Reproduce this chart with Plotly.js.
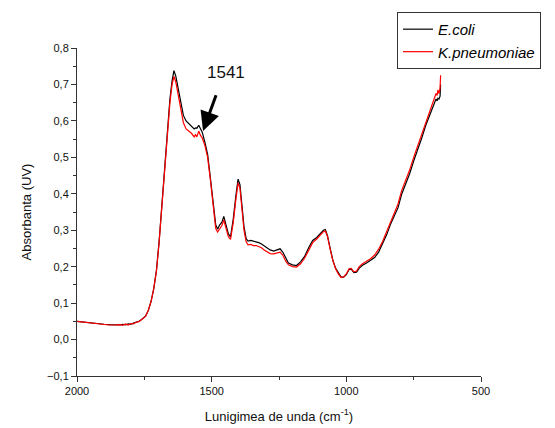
<!DOCTYPE html>
<html>
<head>
<meta charset="utf-8">
<script src="https://cdn.plot.ly/plotly-3.0.1.min.js"></script>
<style>html,body{margin:0;padding:0;background:#fff;}#chart{width:555px;height:428px;}</style>
</head>
<body>
<div id="chart"></div>
<script>
const wavenumber = [2000,1980,1960,1940,1920,1900,1880,1860,1840,1830,1820,1810,1800,1790,1780,1770,1760,1745,1735,1725,1715,1705,1695,1685,1675,1665,1655,1647,1640,1633,1625,1615,1605,1595,1585,1575,1565,1560,1555,1548,1542,1535,1525,1515,1505,1495,1485,1478,1470,1462,1455,1447,1438,1430,1420,1410,1402,1395,1388,1380,1372,1365,1355,1345,1335,1325,1315,1305,1295,1283,1270,1258,1246,1236,1225,1215,1200,1185,1170,1155,1140,1125,1110,1098,1085,1078,1070,1060,1050,1040,1030,1020,1010,1000,990,982,972,962,952,940,925,910,895,880,865,850,835,820,808,795,780,765,750,735,720,705,690,680,672,667,663,660,656,652,650];
const ecoli = [0.050,0.048,0.046,0.045,0.044,0.042,0.041,0.040,0.040,0.042,0.040,0.043,0.042,0.045,0.047,0.050,0.055,0.065,0.080,0.105,0.140,0.190,0.270,0.370,0.470,0.570,0.660,0.710,0.738,0.722,0.690,0.648,0.615,0.600,0.593,0.586,0.578,0.581,0.580,0.588,0.578,0.569,0.541,0.508,0.445,0.375,0.315,0.303,0.315,0.322,0.338,0.315,0.290,0.282,0.330,0.395,0.440,0.425,0.375,0.310,0.277,0.270,0.272,0.270,0.269,0.266,0.262,0.257,0.252,0.246,0.243,0.245,0.249,0.240,0.222,0.210,0.205,0.203,0.213,0.228,0.252,0.272,0.280,0.290,0.300,0.302,0.285,0.250,0.218,0.196,0.182,0.172,0.171,0.178,0.192,0.193,0.184,0.185,0.196,0.204,0.210,0.217,0.225,0.240,0.262,0.288,0.318,0.345,0.362,0.398,0.425,0.455,0.490,0.520,0.553,0.588,0.618,0.638,0.655,0.660,0.655,0.662,0.660,0.668,0.700];
const kpneumoniae = [0.050,0.048,0.046,0.045,0.043,0.042,0.040,0.040,0.041,0.039,0.043,0.040,0.044,0.043,0.048,0.049,0.056,0.064,0.081,0.104,0.140,0.188,0.268,0.365,0.465,0.562,0.650,0.700,0.722,0.706,0.675,0.630,0.595,0.578,0.572,0.566,0.556,0.562,0.556,0.572,0.561,0.553,0.532,0.500,0.440,0.370,0.305,0.295,0.305,0.313,0.328,0.305,0.282,0.275,0.320,0.385,0.430,0.415,0.365,0.300,0.268,0.260,0.261,0.258,0.258,0.255,0.252,0.246,0.242,0.236,0.235,0.237,0.240,0.232,0.215,0.205,0.200,0.199,0.208,0.223,0.246,0.266,0.276,0.285,0.296,0.298,0.283,0.248,0.216,0.195,0.180,0.171,0.172,0.180,0.194,0.195,0.186,0.188,0.200,0.208,0.214,0.222,0.232,0.248,0.270,0.297,0.327,0.354,0.372,0.408,0.435,0.465,0.500,0.532,0.565,0.600,0.630,0.650,0.668,0.675,0.670,0.685,0.675,0.690,0.725];
const seriesNames = ['E.coli','K.pneumoniae'];
const xTicks = [2000,1500,1000,500];
const yTicks = [-0.1,0,0.1,0.2,0.3,0.4,0.5,0.6,0.7,0.8];
const peakLabel = '1541';
const peakX = 1532, peakY = 0.572;

const traces = [
  {x: wavenumber, y: ecoli, name: '<i>' + seriesNames[0] + '</i>', type: 'scatter', mode: 'lines', line: {color: '#000000', width: 1.2}},
  {x: wavenumber, y: kpneumoniae, name: '<i>' + seriesNames[1] + '</i>', type: 'scatter', mode: 'lines', line: {color: '#ff0000', width: 1.2}}
];

const axisCommon = {
  showgrid: false, zeroline: false, showline: true, linecolor: '#333', linewidth: 1,
  ticks: 'outside', ticklen: 5, tickcolor: '#333', tickwidth: 1,
  tickfont: {family: 'Liberation Sans, Arial, sans-serif', size: 11, color: '#111'}
};

const layout = {
  width: 555, height: 428,
  margin: {l: 77, r: 74, t: 48, b: 52},
  paper_bgcolor: '#fff', plot_bgcolor: '#fff',
  separators: ',.',
  showlegend: true,
  font: {family: 'Liberation Sans, Arial, sans-serif', color: '#111'},
  xaxis: Object.assign({}, axisCommon, {
    range: [2000, 500], tickvals: xTicks, ticktext: xTicks.map(String),
    minor: {tickvals: [1750, 1250, 750], ticks: 'outside', ticklen: 3, tickcolor: '#333'},
    title: {text: 'Lunigimea de unda (cm<sup>-1</sup>)', font: {size: 13, family: 'Liberation Sans, Arial, sans-serif', color: '#111'}, standoff: 15}
  }),
  yaxis: Object.assign({}, axisCommon, {
    range: [-0.1, 0.8], tickvals: yTicks, tickformat: '.1f',
    minor: {dtick: 0.05, ticks: 'outside', ticklen: 3, tickcolor: '#333'},
    title: {text: 'Absorbanta (UV)', font: {size: 13, family: 'Liberation Sans, Arial, sans-serif', color: '#111'}, standoff: 12}
  }),
  legend: {
    x: 0.792, y: 1.11, xanchor: 'left', yanchor: 'top',
    bgcolor: '#fff', bordercolor: '#333', borderwidth: 1,
    font: {family: 'Liberation Sans, Arial, sans-serif', size: 15, color: '#000'},
    tracegroupgap: 0, itemwidth: 30
  },
  annotations: [
    {x: peakX, y: peakY, xref: 'x', yref: 'y', text: ' ', showarrow: true,
     ax: 16, ay: -44, arrowhead: 2, arrowsize: 1.3, arrowwidth: 3, arrowcolor: '#000'},
    {x: 1447, y: 0.734, xref: 'x', yref: 'y', text: peakLabel, showarrow: false,
     font: {family: 'Liberation Sans, Arial, sans-serif', size: 17, color: '#111'}}
  ]
};

Plotly.newPlot('chart', traces, layout, {displayModeBar: false, staticPlot: true});
</script>
</body>
</html>
